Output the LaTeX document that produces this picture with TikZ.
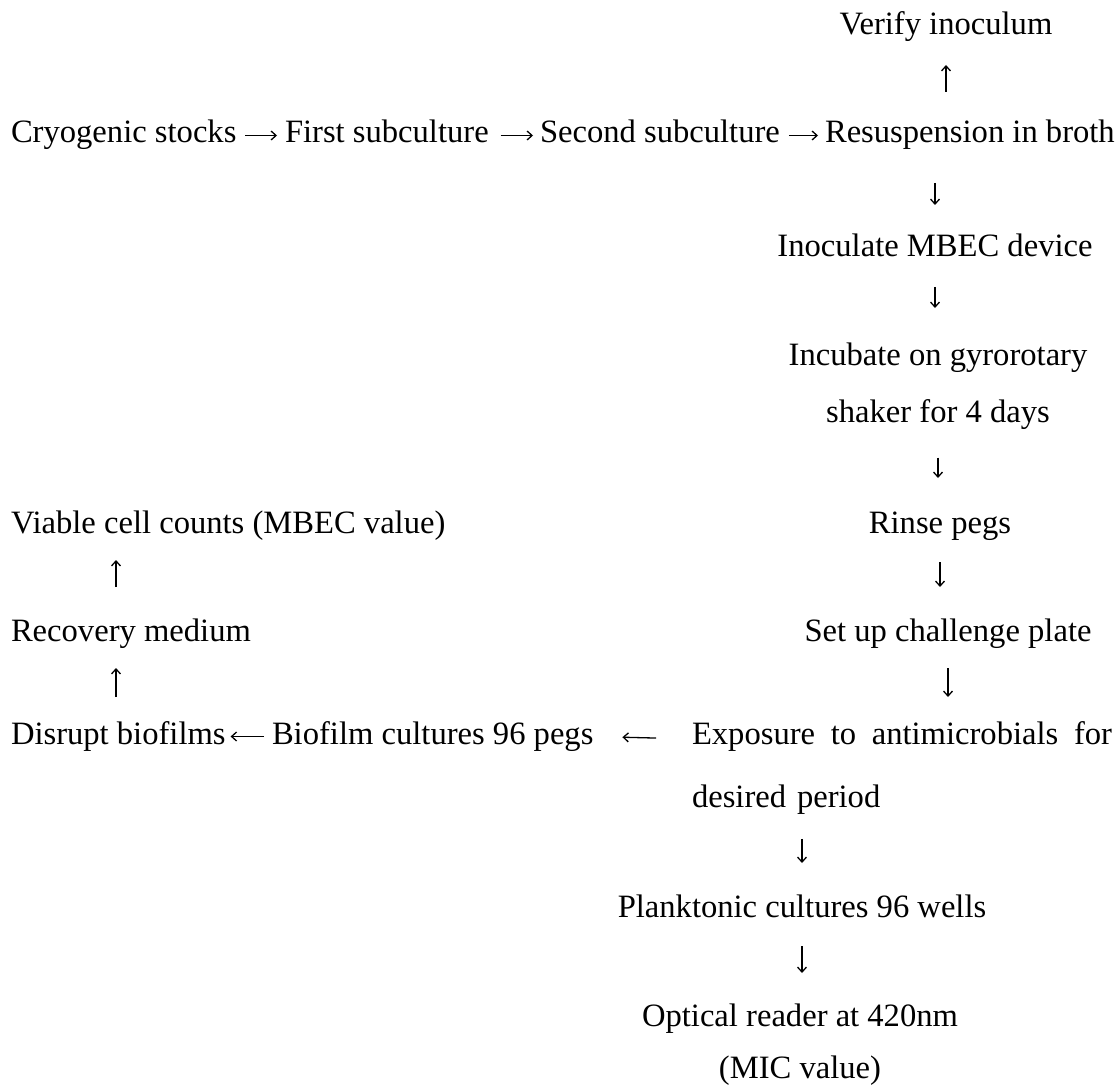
\documentclass[tikz,border=0pt]{standalone}
\usepackage{fontspec}
\setmainfont{Liberation Serif}
\usetikzlibrary{arrows.meta}
\begin{document}
\begin{tikzpicture}[x=1pt,y=-1pt,
  every node/.style={inner sep=0pt,outer sep=0pt,font=\fontsize{32.6}{38}\selectfont},
  lbl/.style={text height=22pt,text depth=7pt},
  arr/.style={line width=1.3pt,-{Straight Barb[length=5pt,width=9pt]}}]
\useasboundingbox[fill=white] (0,0) rectangle (1117,1086);
% first row
\node[lbl,anchor=base] (ver) at (946,35) {Verify inoculum};
\node[lbl,anchor=base west] (cryo) at (11,143) {Cryogenic stocks};
\node[lbl,anchor=base west] (fs) at (285,143) {First subculture};
\node[lbl,anchor=base west] (ss) at (540,143) {Second subculture};
\node[lbl,anchor=base west] (res) at (825,143) {Resuspension in broth};
% right column
\node[lbl,anchor=base] (inoc) at (935,257) {Inoculate MBEC device};
\node[anchor=north,align=center,font=\fontsize{32.6}{57}\selectfont] (incub) at (938,343) {Incubate on gyrorotary\\shaker for 4 days};
\node[lbl,anchor=base] (rin) at (940,533) {Rinse pegs};
\node[lbl,anchor=base] (set) at (948,641) {Set up challenge plate};
\node[anchor=north west,text width=420pt,align=left,font=\fontsize{32.6}{63}\selectfont] (exp) at (692,722) {\makebox[420pt][s]{Exposure\hfil\ to\hfil\ antimicrobials\hfil\ for}\\desired period};
\node[lbl,anchor=base] (plank) at (802,917) {Planktonic cultures 96 wells};
\node[anchor=north,align=center,font=\fontsize{32.6}{52}\selectfont] (opt) at (800,1004) {Optical reader at 420nm\\(MIC value)};
% left column
\node[lbl,anchor=base west] (via) at (11,533) {Viable cell counts (MBEC value)};
\node[lbl,anchor=base west] (rec) at (11,641) {Recovery medium};
\node[lbl,anchor=base west] (dis) at (11,744) {Disrupt biofilms};
\node[lbl,anchor=base west] (bio) at (272,744) {Biofilm cultures 96 pegs};
% connectors first row
\draw[arr,shorten <=9pt,shorten >=8pt] (cryo.east) -- (fs.west);
\draw[arr,shorten <=12pt,shorten >=7pt] (fs.east) -- (ss.west);
\draw[arr,shorten <=9pt,shorten >=7pt] (ss.east) -- (res.west);
% right column
\draw[arr,shorten <=29pt,shorten >=23pt] (res.north -| ver.south) -- (ver.south);
\draw[arr,shorten <=33pt,shorten >=30pt] (res.south -| inoc.north) -- (inoc.north);
\draw[arr,shorten <=23pt,shorten >=35pt] (inoc.south) -- (inoc.south |- incub.north);
\draw[arr,shorten <=28pt,shorten >=33pt] (incub.south) -- (incub.south |- rin.north);
\draw[arr,shorten <=22pt,shorten >=32pt] (rin.south) -- (rin.south |- set.north);
\draw[arr,shorten <=20pt,shorten >=25pt] (set.south) -- (set.south |- exp.north);
\draw[arr,shorten <=24pt,shorten >=32pt] (exp.south -| plank.north) -- (plank.north);
\draw[arr,shorten <=22pt,shorten >=31pt] (plank.south) -- (plank.south |- opt.north);
% bottom row leftwards
\draw[arr,shorten <=36pt,shorten >=29pt] ([yshift=6pt]exp.base west) -- (bio.east);
\draw[arr,shorten <=8pt,shorten >=5pt] (bio.west) -- (dis.east);
% left column upwards
\draw[arr,shorten <=25pt,shorten >=20pt] ([xshift=105pt]dis.north west) -- ([xshift=105pt]rec.south west);
\draw[arr,shorten <=32pt,shorten >=20pt] ([xshift=105pt]rec.north west) -- ([xshift=105pt]via.south west);
\end{tikzpicture}
\end{document}
